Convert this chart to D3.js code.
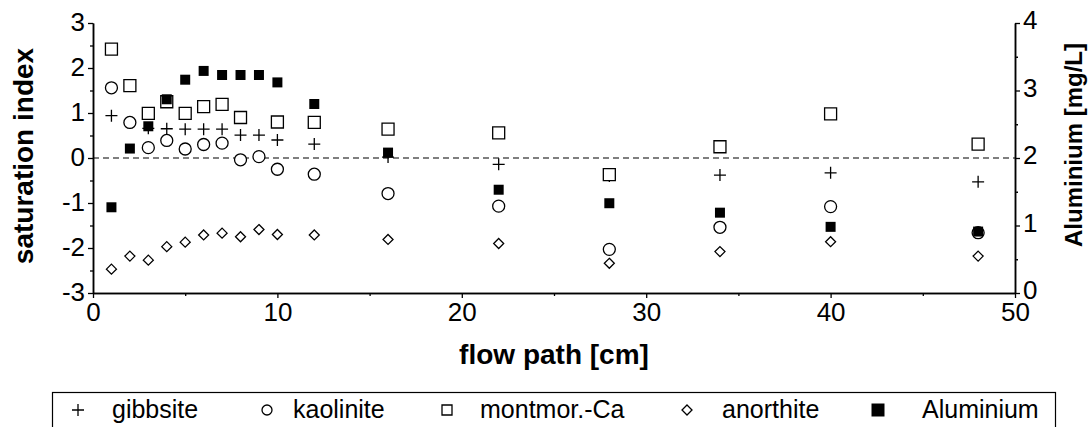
<!DOCTYPE html>
<html lang="en">
<head>
<meta charset="utf-8">
<title>Saturation index along flow path</title>
<script src="https://cdnjs.cloudflare.com/ajax/libs/d3/7.8.5/d3.min.js"></script>
<style>
  body { margin: 0; background: #fff; }
  svg { font-family: "Liberation Sans", Arial, sans-serif; }
</style>
</head>
<body>
<svg id="chart" width="1091" height="427"></svg>
<script>
// flow path positions [cm]
var flowPath = [1, 2, 3, 4, 5, 6, 7, 8, 9, 10, 12, 16, 22, 28, 34, 40, 48];

// saturation indices
var gibbsite   = [0.94, 0.78, 0.66, 0.65, 0.64, 0.64, 0.64, 0.51, 0.51, 0.40, 0.31, 0.02, -0.14, -0.40, -0.38, -0.33, -0.53];
var kaolinite  = [1.56, 0.79, 0.23, 0.39, 0.20, 0.30, 0.33, -0.04, 0.03, -0.25, -0.36, -0.79, -1.07, -2.03, -1.54, -1.08, -1.66];
var montmorCa  = [2.42, 1.61, 0.99, 1.25, 0.99, 1.14, 1.19, 0.90, null, 0.80, 0.79, 0.64, 0.56, -0.37, 0.25, 0.98, 0.31];
var anorthite  = [-2.47, -2.18, -2.27, -1.97, -1.87, -1.71, -1.67, -1.75, -1.59, -1.70, -1.71, -1.81, -1.90, -2.34, -2.08, -1.86, -2.18];

// aluminium [mg/L], right axis
var aluminium  = [1.27, 2.14, 2.47, 2.87, 3.16, 3.29, 3.23, 3.23, 3.23, 3.12, 2.80, 2.08, 1.53, 1.33, 1.19, 0.98, 0.91];

var legendLabels = ["gibbsite", "kaolinite", "montmor.-Ca", "anorthite", "Aluminium"];

var svg = d3.select("#chart");
var m = { left: 93, right: 1015, top: 23, bottom: 293 };

var x = d3.scaleLinear().domain([0, 50]).range([m.left, m.right]);
var y = d3.scaleLinear().domain([-3, 3]).range([m.bottom, m.top]);
var y2 = d3.scaleLinear().domain([0, 4]).range([m.bottom, m.top]);

var fmt = function (d) { return String(d); };

function styleAxis(g) {
    g.attr("font-size", 26).attr("font-family", "Liberation Sans, Arial, sans-serif");
    g.select(".domain").attr("stroke", "#000").attr("stroke-width", 1.5);
    g.selectAll(".tick line").attr("stroke", "#000").attr("stroke-width", 1.3);
    g.selectAll(".tick text").attr("fill", "#000");
}

// minor ticks first
svg.append("g").attr("transform", "translate(0," + m.bottom + ")")
    .call(d3.axisBottom(x).tickValues(d3.range(5, 50, 10)).tickSizeInner(3).tickSizeOuter(0).tickFormat(""))
    .call(styleAxis);
svg.append("g").attr("transform", "translate(" + m.left + ",0)")
    .call(d3.axisLeft(y).tickValues(d3.range(-2.5, 3, 1)).tickSizeInner(3).tickSizeOuter(0).tickFormat(""))
    .call(styleAxis);
svg.append("g").attr("transform", "translate(" + m.right + ",0)")
    .call(d3.axisRight(y2).tickValues(d3.range(0.5, 4, 1)).tickSizeInner(3).tickSizeOuter(0).tickFormat(""))
    .call(styleAxis);

// major ticks
svg.append("g").attr("transform", "translate(0," + m.bottom + ")")
    .call(d3.axisBottom(x).tickValues(d3.range(0, 51, 10)).tickSizeInner(5).tickSizeOuter(0).tickPadding(5).tickFormat(fmt))
    .call(styleAxis);
svg.append("g").attr("transform", "translate(" + m.left + ",0)")
    .call(d3.axisLeft(y).tickValues(d3.range(-3, 4, 1)).tickSizeInner(5).tickSizeOuter(0).tickPadding(3).tickFormat(fmt))
    .call(styleAxis)
    .call(function (g) { g.selectAll(".tick text").attr("dy", "0.3em"); });
svg.append("g").attr("transform", "translate(" + m.right + ",0)")
    .call(d3.axisRight(y2).tickValues(d3.range(0, 5, 1)).tickSizeInner(5).tickSizeOuter(0).tickPadding(3).tickFormat(fmt))
    .call(styleAxis)
    .call(function (g) { g.selectAll(".tick text").attr("dy", "0.22em"); });

// zero line
svg.append("line")
    .attr("x1", x(0)).attr("x2", x(50))
    .attr("y1", y(0)).attr("y2", y(0))
    .attr("stroke", "#000").attr("stroke-width", 1.2)
    .attr("stroke-dasharray", "6,4");

// axis titles
svg.append("text").attr("x", x(25)).attr("y", 364)
    .attr("text-anchor", "middle").attr("font-size", 28).attr("font-weight", "bold")
    .text("flow path [cm]");
svg.append("text").attr("transform", "translate(33,156) rotate(-90)")
    .attr("text-anchor", "middle").attr("font-size", 28).attr("font-weight", "bold")
    .text("saturation index");
svg.append("text").attr("transform", "translate(1082,145) rotate(-90)")
    .attr("text-anchor", "middle").attr("font-size", 24).attr("font-weight", "bold")
    .text("Aluminium [mg/L]");

function plusPath(s) {
    return "M" + (-s) + ",0H" + s + "M0," + (-s) + "V" + s;
}

// marker sizes in px (width)
var markerSize = { plus: 12, circle: 12, square: 12, diamond: 10, fill: 10 };

function markerPath(kind, w) {
    var h = w / 2;
    if (kind === "plus") return plusPath(h);
    if (kind === "circle") return d3.symbol().type(d3.symbolCircle).size(Math.PI * h * h)();
    if (kind === "diamond") return "M0," + (-h) + "L" + h + ",0L0," + h + "L" + (-h) + ",0Z";
    return "M" + (-h) + "," + (-h) + "H" + h + "V" + h + "H" + (-h) + "Z";
}

function styleMarker(sel, kind, w) {
    sel.attr("d", markerPath(kind, w));
    if (kind === "fill") {
        sel.attr("fill", "#000");
    } else if (kind === "plus") {
        sel.attr("fill", "none").attr("stroke", "#000").attr("stroke-width", 1.3);
    } else {
        sel.attr("fill", "#fff").attr("stroke", "#000").attr("stroke-width", 1.3);
    }
}

function drawPoints(vals, scale, kind) {
    var pts = flowPath.map(function (f, i) { return { f: f, v: vals[i] }; })
        .filter(function (d) { return d.v != null; });
    var sel = svg.append("g").selectAll("path").data(pts).enter().append("path")
        .attr("transform", function (d) { return "translate(" + x(d.f) + "," + scale(d.v) + ")"; });
    styleMarker(sel, kind, markerSize[kind]);
}

drawPoints(gibbsite, y, "plus");
drawPoints(montmorCa, y, "square");
drawPoints(kaolinite, y, "circle");
drawPoints(anorthite, y, "diamond");
drawPoints(aluminium, y2, "fill");

// legend
var legend = svg.append("g");
legend.append("rect").attr("x", 52.5).attr("y", 392.5).attr("width", 1003).attr("height", 45)
    .attr("fill", "none").attr("stroke", "#000").attr("stroke-width", 1.2);
var kinds = ["plus", "circle", "square", "diamond", "fill"];
var legSize = [12, 10, 10, 10, 13];
var symX = [78, 267, 447, 687, 878];
var txtX = [112, 293, 480, 722, 922];
legendLabels.forEach(function (lab, i) {
    var p = legend.append("path").attr("transform", "translate(" + symX[i] + ",410)");
    styleMarker(p, kinds[i], legSize[i]);
    legend.append("text").attr("x", txtX[i]).attr("y", 418).attr("font-size", 25).text(lab);
});
</script>
</body>
</html>
